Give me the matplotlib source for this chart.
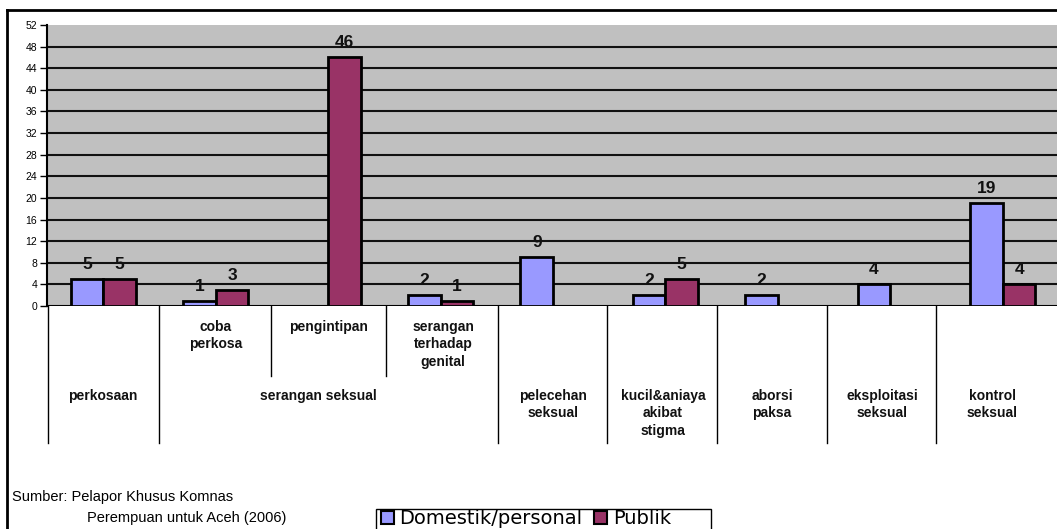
import matplotlib.pyplot as plt
from matplotlib.lines import Line2D
from matplotlib.patches import Rectangle, Patch
import numpy as np

plt.rcParams['font.family'] = ['Liberation Sans', 'DejaVu Sans']

categories = ['perkosaan', 'coba perkosa', 'pengintipan', 'serangan terhadap genital',
              'pelecehan seksual', 'kucil&aniaya akibat stigma', 'aborsi paksa',
              'eksploitasi seksual', 'kontrol seksual']
domestik = [5, 1, 0, 2, 9, 2, 2, 4, 19]
publik = [5, 3, 46, 1, 0, 5, 0, 0, 4]
yticks = list(range(0, 53, 4))

# labels of the table under the chart (upper row, lower row)
top_labels = ['', 'coba\nperkosa', 'pengintipan', 'serangan\nterhadap\ngenital',
              '', '', '', '', '']
group_labels = ['perkosaan', 'serangan seksual', 'pelecehan\nseksual',
                'kucil&aniaya\nakibat\nstigma', 'aborsi\npaksa',
                'eksploitasi\nseksual', 'kontrol\nseksual']

W, H = 1057, 529
fig = plt.figure(figsize=(W / 100, H / 100), dpi=100)

# chart area in pixels
x0, x1 = 47, 1059
ytop, ybot = 25, 306
ax = fig.add_axes([x0 / W, (H - ybot) / H, (x1 - x0) / W, (ybot - ytop) / H])
ax.set_facecolor('#c0c0c0')

x = np.arange(len(categories))
bw = 0.29
b1 = ax.bar(x - bw / 2, domestik, bw, color='#9999ff', edgecolor='black', linewidth=2, zorder=3)
b2 = ax.bar(x + bw / 2, publik, bw, color='#993366', edgecolor='black', linewidth=2, zorder=3)

for bars, vals in ((b1, domestik), (b2, publik)):
    for r, v in zip(bars, vals):
        if v > 0:
            ax.annotate(str(v), (r.get_x() + r.get_width() / 2, v), xytext=(0, 5),
                        textcoords='offset points', ha='center', va='bottom',
                        fontsize=12.5, fontweight='bold', color='#111111', zorder=4)

ax.set_xlim(-0.5, len(categories) - 0.5)
ax.set_ylim(0, 52)
ax.set_yticks(yticks)
ax.set_yticklabels([str(t) for t in yticks], fontsize=7.5)
ax.tick_params(axis='y', direction='out', length=5, width=1, pad=2)
ax.set_xticks([])
for t in yticks[1:-1]:
    ax.axhline(t, color='#111111', linewidth=1.5, zorder=1)
ax.axhline(0, color='black', linewidth=1.5, zorder=2)
for s in ['top', 'right', 'bottom']:
    ax.spines[s].set_visible(False)
ax.spines['left'].set_linewidth(1.5)

# overlay in pixel coordinates for the label table, source and frame
ov = fig.add_axes([0, 0, 1, 1], facecolor='none')
ov.set_xlim(0, W)
ov.set_ylim(H, 0)
ov.axis('off')

full_lines = [48, 159, 498, 607, 717, 827, 936]
short_lines = [271, 386]
for xl in full_lines:
    ov.add_line(Line2D([xl, xl], [306, 443], color='black', linewidth=1))
for xl in short_lines:
    ov.add_line(Line2D([xl, xl], [306, 376], color='black', linewidth=1))

top_x = [103, 216, 328, 443, 553, 663, 772, 882, 992]
for tx, lab in zip(top_x, top_labels):
    if lab:
        ov.text(tx, 320, lab, ha='center', va='top', fontsize=10, fontweight='bold',
                linespacing=1.3, color='#111111')

group_x = [103, 318, 553, 663, 772, 882, 992]
for gx, lab in zip(group_x, group_labels):
    ov.text(gx, 389, lab, ha='center', va='top', fontsize=10, fontweight='bold',
            linespacing=1.3, color='#111111')

ov.text(12, 497, 'Sumber: Pelapor Khusus Komnas', ha='left', va='center', fontsize=10.5)
ov.text(87, 518, 'Perempuan untuk Aceh (2006)', ha='left', va='center', fontsize=10.5)

# outer frame (top and left visible)
ov.add_line(Line2D([7, W], [10, 10], color='black', linewidth=2))
ov.add_line(Line2D([7, 7], [10, H], color='black', linewidth=2))

# legend box
ov.add_patch(Rectangle((376, 509), 335, 30, facecolor='white', edgecolor='black', linewidth=1))
handles = [Patch(facecolor='#9999ff', edgecolor='black', linewidth=1.5, label='Domestik/personal'),
           Patch(facecolor='#993366', edgecolor='black', linewidth=1.5, label='Publik')]
fig.legend(handles=handles, loc='center left', bbox_to_anchor=(381 / W, 1 - 519 / H),
           ncol=2, frameon=False, handlelength=0.65, handleheight=0.65,
           handletextpad=0.3, columnspacing=0.6, borderpad=0.0, borderaxespad=0.0,
           prop={'family': 'DejaVu Sans', 'size': 14})

plt.savefig('out.png', dpi=100)
